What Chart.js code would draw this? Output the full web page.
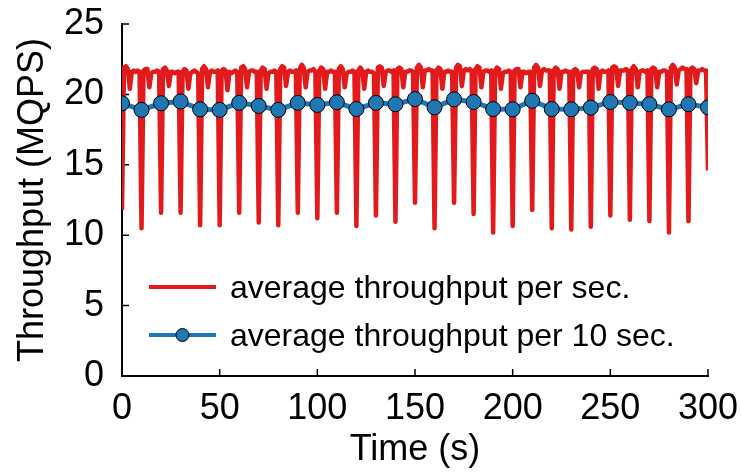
<!DOCTYPE html>
<html>
<head>
<meta charset="utf-8">
<script src="https://cdn.jsdelivr.net/npm/chart.js@4.4.1/dist/chart.umd.min.js"></script>
<style>
html,body{margin:0;padding:0;background:#fff;}
#wrap{width:741px;height:472px;position:relative;}
</style>
</head>
<body>
<div id="wrap"><canvas id="c" width="741" height="472"></canvas></div>
<script>
// per-second throughput (MQPS), t = 0..300
const perSecond = [
 11.8, 21.9, 22.0, 21.8, 20.4, 21.6, 21.7, 21.6, 21.7, 21.6,
 10.5, 21.7, 21.8, 21.8, 20.5, 21.5, 21.6, 21.6, 21.7, 21.6,
 11.6, 21.8, 21.9, 21.7, 20.6, 21.6, 21.6, 21.5, 21.6, 21.6,
 11.6, 21.6, 21.8, 21.7, 20.4, 21.5, 21.6, 21.7, 21.6, 21.5,
 10.7, 21.8, 22.0, 21.8, 20.5, 21.6, 21.7, 21.6, 21.6, 21.7,
 10.7, 21.7, 21.8, 21.7, 20.3, 21.6, 21.5, 21.6, 21.7, 21.6,
 11.6, 21.9, 22.0, 21.8, 20.5, 21.6, 21.7, 21.7, 21.6, 21.6,
 10.9, 21.7, 21.9, 21.8, 20.4, 21.5, 21.6, 21.6, 21.7, 21.6,
 10.7, 21.8, 22.0, 21.9, 20.6, 21.6, 21.7, 21.6, 21.6, 21.7,
 11.6, 21.8, 22.1, 21.9, 20.5, 21.6, 21.7, 21.7, 21.8, 21.6,
 11.2, 21.7, 21.9, 21.8, 20.4, 21.6, 21.6, 21.7, 21.6, 21.6,
 11.6, 21.8, 22.0, 21.8, 20.5, 21.5, 21.6, 21.6, 21.7, 21.6,
 10.65,21.7, 21.9, 21.7, 20.4, 21.6, 21.7, 21.6, 21.6, 21.5,
 11.4, 21.9, 22.0, 21.9, 20.6, 21.6, 21.7, 21.7, 21.6, 21.7,
 10.95,21.8, 21.9, 21.8, 20.5, 21.6, 21.6, 21.7, 21.7, 21.6,
 12.3, 21.9, 22.1, 21.9, 20.5, 21.7, 21.7, 21.8, 21.7, 21.7,
 10.5, 21.7, 21.9, 21.8, 20.4, 21.6, 21.6, 21.7, 21.6, 21.6,
 12.3, 21.9, 22.1, 22.0, 20.6, 21.7, 21.8, 21.7, 21.8, 21.7,
 11.5, 21.8, 22.0, 21.9, 20.5, 21.6, 21.7, 21.7, 21.6, 21.7,
 10.2, 21.7, 21.9, 21.8, 20.4, 21.5, 21.6, 21.6, 21.7, 21.6,
 10.65,21.7, 21.8, 21.8, 20.5, 21.6, 21.6, 21.5, 21.6, 21.6,
 11.8, 21.9, 22.1, 21.9, 20.6, 21.7, 21.8, 21.7, 21.7, 21.7,
 10.5, 21.7, 21.9, 21.8, 20.4, 21.6, 21.6, 21.7, 21.6, 21.6,
 10.4, 21.7, 21.8, 21.7, 20.5, 21.5, 21.6, 21.6, 21.6, 21.6,
 10.6, 21.8, 21.9, 21.8, 20.4, 21.6, 21.7, 21.6, 21.6, 21.7,
 11.4, 21.9, 22.0, 21.9, 20.6, 21.7, 21.7, 21.7, 21.8, 21.7,
 11.1, 21.8, 22.0, 21.8, 20.5, 21.6, 21.7, 21.7, 21.6, 21.7,
 11.0, 21.8, 21.9, 21.8, 20.5, 21.6, 21.6, 21.7, 21.7, 21.6,
 10.2, 21.9, 22.1, 21.9, 20.7, 21.7, 21.8, 21.9, 21.8, 21.8,
 11.0, 21.8, 21.9, 21.8, 20.8, 21.7, 21.7, 21.8, 21.7, 21.7,
 14.6
];
// 10-second averages at t = 0,10,...,300
const per10Times = [0,10,20,30,40,50,60,70,80,90,100,110,120,130,140,150,160,170,180,190,200,210,220,230,240,250,260,270,280,290,300];
const per10Values = [19.37,18.9,19.37,19.5,18.94,18.9,19.4,19.18,18.9,19.4,19.25,19.44,18.96,19.4,19.3,19.67,19.08,19.65,19.46,18.96,18.94,19.55,18.96,18.94,19.06,19.46,19.4,19.3,18.94,19.3,19.08];
const xTicks = [0,50,100,150,200,250,300];
const yTicks = [0,5,10,15,20,25];
const seriesLabels = ['average throughput per sec.', 'average throughput per 10 sec.'];

const RED = '#e31a1c', BLUE = '#1f78b4';
const FONT = "'Liberation Sans', Arial, sans-serif";
const AX = 36;

const redData = perSecond.map((v, i) => ({x: i, y: v}));
const blueData = per10Values.map((v, i) => ({x: per10Times[i], y: v}));

const inwardTicks = {
  id: 'inwardTicks',
  beforeDatasetsDraw(chart) {
    const {ctx, scales: {x, y}, chartArea} = chart;
    ctx.save();
    ctx.strokeStyle = '#000';
    ctx.lineWidth = 1.5;
    ctx.beginPath();
    xTicks.forEach(t => { const px = x.getPixelForValue(t); ctx.moveTo(px, chartArea.bottom); ctx.lineTo(px, chartArea.bottom - 7); });
    yTicks.forEach(t => { const py = y.getPixelForValue(t); ctx.moveTo(chartArea.left, py); ctx.lineTo(chartArea.left + 7, py); });
    ctx.stroke();
    ctx.restore();
  }
};

const legendIn = {
  id: 'legendIn',
  afterDraw(chart) {
    const {ctx} = chart;
    ctx.save();
    const x0 = 149, x1 = 216, tx = 230;
    const rows = [287, 335];
    ctx.lineCap = 'butt';
    ctx.strokeStyle = RED; ctx.lineWidth = 4;
    ctx.beginPath(); ctx.moveTo(x0, rows[0]); ctx.lineTo(x1, rows[0]); ctx.stroke();
    ctx.strokeStyle = BLUE; ctx.lineWidth = 4;
    ctx.beginPath(); ctx.moveTo(x0, rows[1]); ctx.lineTo(x1, rows[1]); ctx.stroke();
    ctx.fillStyle = BLUE; ctx.strokeStyle = '#000'; ctx.lineWidth = 1;
    ctx.beginPath(); ctx.arc((x0 + x1) / 2, rows[1], 6.5, 0, Math.PI * 2); ctx.fill(); ctx.stroke();
    ctx.fillStyle = '#000';
    ctx.font = "32px " + FONT;
    ctx.textBaseline = 'middle';
    ctx.textAlign = 'left';
    ctx.fillText(seriesLabels[0], tx, rows[0] + 2);
    ctx.fillText(seriesLabels[1], tx, rows[1] + 2);
    ctx.restore();
  }
};

new Chart(document.getElementById('c'), {
  type: 'line',
  data: {
    datasets: [
      { label: seriesLabels[0], data: redData, borderColor: RED, backgroundColor: RED, borderWidth: 4.5, pointRadius: 0, tension: 0, borderJoinStyle: 'round', order: 2 },
      { label: seriesLabels[1], data: blueData, borderColor: BLUE, backgroundColor: BLUE, borderWidth: 5, pointRadius: 7.5, pointBackgroundColor: BLUE, pointBorderColor: '#000', pointBorderWidth: 1, tension: 0, order: 1 }
    ]
  },
  options: {
    responsive: false,
    animation: false,
    layout: { padding: { top: 24, right: 33, left: 0, bottom: 0 } },
    plugins: { legend: { display: false }, tooltip: { enabled: false } },
    scales: {
      x: {
        type: 'linear', min: 0, max: 300,
        afterBuildTicks: s => { s.ticks = xTicks.map(v => ({value: v})); },
        afterFit: s => { s.height = 96; s.paddingLeft = 0; s.paddingRight = 0; },
        grid: { display: false, drawTicks: false },
        border: { display: true, color: '#000', width: 2 },
        ticks: { color: '#000', font: { family: FONT, size: AX }, padding: 11, maxRotation: 0 },
        title: { display: true, text: 'Time (s)', color: '#000', font: { family: FONT, size: AX }, padding: { top: 0, bottom: 0 } }
      },
      y: {
        min: 0, max: 25,
        afterBuildTicks: s => { s.ticks = yTicks.map(v => ({value: v})); },
        afterFit: s => { s.width = 122; s.paddingTop = 0; s.paddingBottom = 0; },
        grid: { display: false, drawTicks: false },
        border: { display: true, color: '#000', width: 2 },
        ticks: { color: '#000', font: { family: FONT, size: AX }, padding: 18 },
        title: { display: true, text: 'Throughput (MQPS)', color: '#000', font: { family: FONT, size: AX }, padding: { top: 11, bottom: 0 } }
      }
    }
  },
  plugins: [inwardTicks, legendIn]
});
</script>
</body>
</html>
